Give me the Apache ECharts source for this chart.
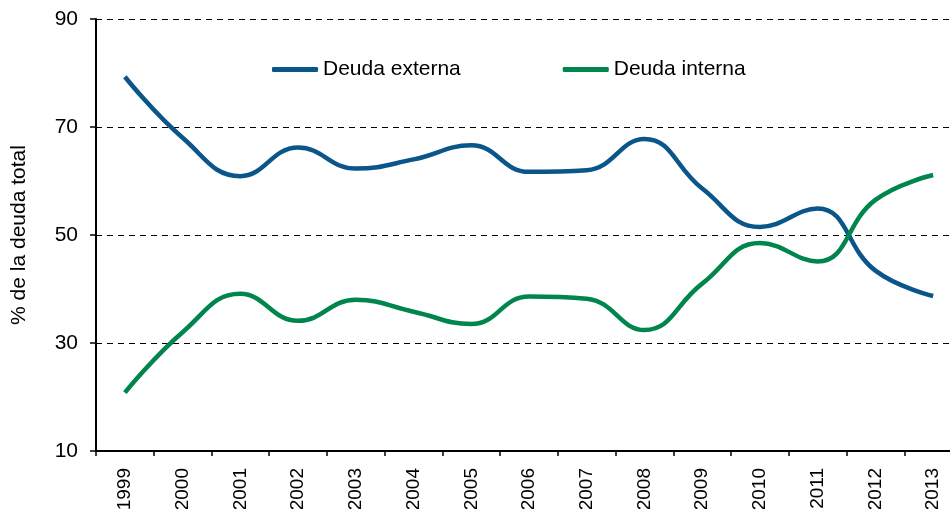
<!DOCTYPE html>
<html>
<head>
<meta charset="utf-8">
<script src="https://cdn.jsdelivr.net/npm/echarts@6/dist/echarts.min.js"></script>
<style>html,body{margin:0;padding:0;background:#fff;overflow:hidden;}#c{width:950px;height:509px;}</style>
</head>
<body>
<div id="c"></div>
<script>
const years = ['1999','2000','2001','2002','2003','2004','2005','2006','2007','2008','2009','2010','2011','2012','2013'];
const deudaExterna = [79.3, 68.0, 60.9, 66.2, 62.3, 64.0, 66.6, 61.7, 62.0, 67.8, 58.6, 51.5, 54.9, 43.4, 38.7];
const deudaInterna = [20.8, 32.0, 39.1, 34.1, 38.0, 35.8, 33.5, 38.6, 38.2, 32.4, 41.0, 48.5, 45.1, 56.5, 61.1];
const yTicks = [10, 30, 50, 70, 90];

const chart = echarts.init(document.getElementById('c'), null, {renderer: 'canvas'});
const font = '"Liberation Sans", Arial, sans-serif';
chart.setOption({
  animation: false,
  backgroundColor: '#fff',
  grid: {left: 96, top: 19, height: 432, width: 866, containLabel: false, outerBoundsMode: 'none'},
  legend: {
    top: 59, left: 272, padding: 0,
    itemWidth: 46, itemHeight: 5, itemGap: 102,
    icon: 'roundRect',
    textStyle: {fontFamily: font, fontSize: 21, color: '#000'},
    data: ['Deuda externa', 'Deuda interna']
  },
  xAxis: {
    type: 'category',
    data: years,
    boundaryGap: true,
    axisLine: {lineStyle: {color: '#000', width: 2}},
    axisTick: {show: true, alignWithLabel: false, length: 5, lineStyle: {color: '#000', width: 1.5}},
    axisLabel: {rotate: 90, margin: 17, fontFamily: font, fontSize: 19, color: '#000', hideOverlap: false},
    splitLine: {show: false}
  },
  yAxis: {
    type: 'value',
    min: yTicks[0], max: yTicks[yTicks.length-1], interval: 20,
    name: '% de la deuda total',
    nameLocation: 'middle',
    nameGap: 66,
    nameTextStyle: {fontFamily: font, fontSize: 21, color: '#000'},
    axisLine: {show: true, lineStyle: {color: '#000', width: 2}},
    axisTick: {show: true, length: 6, lineStyle: {color: '#000', width: 1.5}},
    axisLabel: {margin: 18, fontFamily: font, fontSize: 21, color: '#000'},
    splitLine: {show: true, lineStyle: {color: '#000', type: [6, 5], width: 1.2}}
  },
  series: [
    {
      name: 'Deuda externa', type: 'line', data: deudaExterna,
      smooth: 0.45, symbol: 'none',
      lineStyle: {color: '#0A5589', width: 4.5},
      itemStyle: {color: '#0A5589'}
    },
    {
      name: 'Deuda interna', type: 'line', data: deudaInterna,
      smooth: 0.45, symbol: 'none',
      lineStyle: {color: '#00864C', width: 4.5},
      itemStyle: {color: '#00864C'}
    }
  ]
});
</script>
</body>
</html>
